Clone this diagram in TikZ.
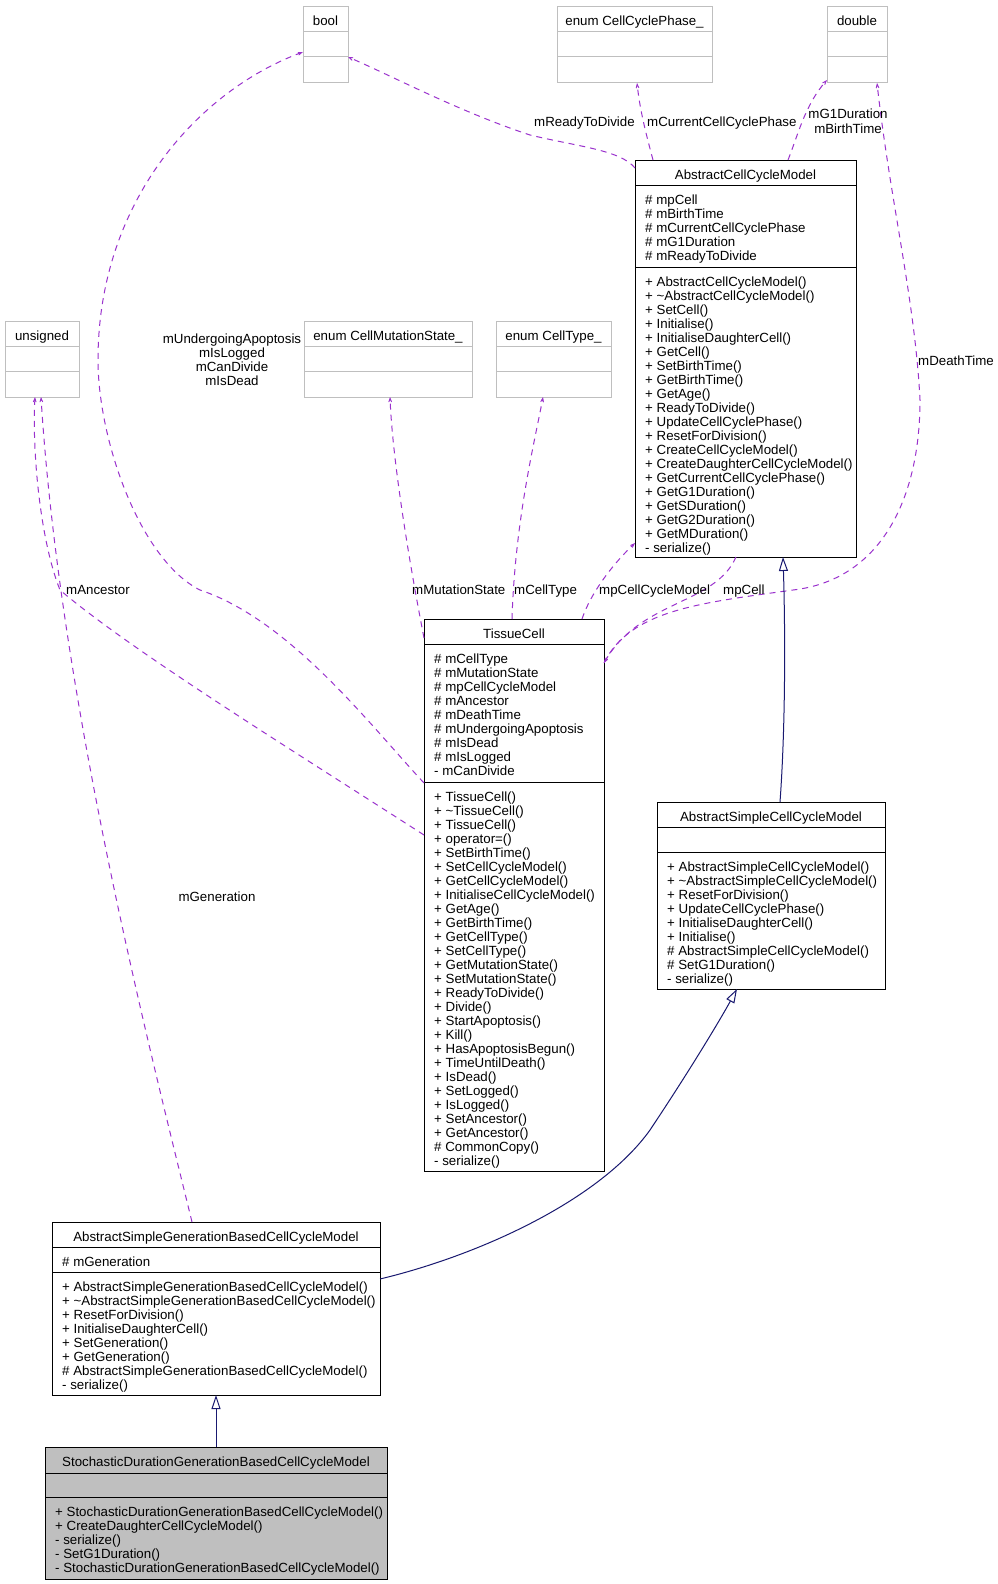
\documentclass[tikz,border=0pt]{standalone}
\usepackage{fontspec}
\setmainfont{Liberation Sans}
\usetikzlibrary{arrows.meta, calc}
\definecolor{usepurple}{HTML}{9A32CD}
\definecolor{isablue}{HTML}{191970}
\definecolor{boxgray}{HTML}{BFBFBF}

\begin{document}
\begin{tikzpicture}[x=1pt, y=-1pt, font=\fontsize{13.3}{14}\selectfont,
  cls/.style={draw=black, line width=1pt, fill=white, anchor=north west, inner sep=0, outer sep=0},
  typ/.style={cls, draw=boxgray},
  classname/.style={anchor=base, inner sep=0},
  member/.style={anchor=base west, align=left, inner sep=0},
  lbl/.style={anchor=base west, inner sep=0},
  uses/.style={draw=usepurple, line width=1pt, dash pattern=on 6pt off 5pt,
    -{Stealth[length=11pt, width=8pt, inset=8pt]}},
  isa/.style={draw=isablue, line width=1pt, -{Triangle[open, length=14pt, width=9pt, fill=white]}}]
  \fill[white] (0,0) rectangle (997,1584);
  \useasboundingbox (0,0) rectangle (997,1584);

  % --- plain types ---
  \node[typ, minimum width=45, minimum height=76] (bool) at (303,7) {};
  \node[classname] (bool-t) at (325.5,26) {bool};
  \node[typ, minimum width=155, minimum height=76] (cyclephase) at (557,7) {};
  \node[classname] (cyclephase-t) at (634.5,26) {enum CellCyclePhase\_};
  \node[typ, minimum width=60, minimum height=76] (double) at (827,7) {};
  \node[classname] (double-t) at (857,26) {double};
  \node[typ, minimum width=74, minimum height=76] (unsigned) at (5,321) {};
  \node[classname] (unsigned-t) at (42,340) {unsigned};
  \node[typ, minimum width=168, minimum height=76] (mutation) at (304,321) {};
  \node[classname] (mutation-t) at (388,340) {enum CellMutationState\_};
  \node[typ, minimum width=115, minimum height=76] (celltype) at (496,321) {};
  \node[classname] (celltype-t) at (553.5,340) {enum CellType\_};
  \foreach \n/\w in {bool/45, cyclephase/155, double/60, unsigned/74, mutation/168, celltype/115}
    \draw[boxgray, line width=1pt] ($(\n.north west)+(0,25)$) -- ++(\w,0)
      ($(\n.north west)+(0,50)$) -- ++(\w,0);

  % --- AbstractCellCycleModel ---
  % (member lists sit on the baseline of their last line)
  \node[cls, minimum width=221, minimum height=397] (accm) at (635,160) {};
  \node[classname] (accm-t) at (745.5,179) {AbstractCellCycleModel};
  \draw[line width=1pt] ($(accm.north west)+(0,25)$) -- ++(221,0)
    ($(accm.north west)+(0,107)$) -- ++(221,0);
  \node[member] (accm-a) at (645,260) {\# mpCell\\\# mBirthTime\\\# mCurrentCellCyclePhase\\\# mG1Duration\\\# mReadyToDivide};
  \node[member] (accm-m) at (645,552) {+ AbstractCellCycleModel()\\+ \textasciitilde AbstractCellCycleModel()\\+ SetCell()\\+ Initialise()\\+ InitialiseDaughterCell()\\+ GetCell()\\+ SetBirthTime()\\+ GetBirthTime()\\+ GetAge()\\+ ReadyToDivide()\\+ UpdateCellCyclePhase()\\+ ResetForDivision()\\+ CreateCellCycleModel()\\+ CreateDaughterCellCycleModel()\\+ GetCurrentCellCyclePhase()\\+ GetG1Duration()\\+ GetSDuration()\\+ GetG2Duration()\\+ GetMDuration()\\- serialize()};

  % --- TissueCell ---
  \node[cls, minimum width=180, minimum height=552] (tissue) at (424,619) {};
  \node[classname] (tissue-t) at (514,638) {TissueCell};
  \draw[line width=1pt] ($(tissue.north west)+(0,25)$) -- ++(180,0)
    ($(tissue.north west)+(0,163)$) -- ++(180,0);
  \node[member] (tissue-a) at (434,775) {\# mCellType\\\# mMutationState\\\# mpCellCycleModel\\\# mAncestor\\\# mDeathTime\\\# mUndergoingApoptosis\\\# mIsDead\\\# mIsLogged\\- mCanDivide};
  \node[member] (tissue-m) at (434,1165) {+ TissueCell()\\+ \textasciitilde TissueCell()\\+ TissueCell()\\+ operator=()\\+ SetBirthTime()\\+ SetCellCycleModel()\\+ GetCellCycleModel()\\+ InitialiseCellCycleModel()\\+ GetAge()\\+ GetBirthTime()\\+ GetCellType()\\+ SetCellType()\\+ GetMutationState()\\+ SetMutationState()\\+ ReadyToDivide()\\+ Divide()\\+ StartApoptosis()\\+ Kill()\\+ HasApoptosisBegun()\\+ TimeUntilDeath()\\+ IsDead()\\+ SetLogged()\\+ IsLogged()\\+ SetAncestor()\\+ GetAncestor()\\\# CommonCopy()\\- serialize()};

  % --- AbstractSimpleCellCycleModel ---
  \node[cls, minimum width=228, minimum height=187] (ascm) at (657,802) {};
  \node[classname] (ascm-t) at (771,821) {AbstractSimpleCellCycleModel};
  \draw[line width=1pt] ($(ascm.north west)+(0,25)$) -- ++(228,0)
    ($(ascm.north west)+(0,50)$) -- ++(228,0);
  \node[member] (ascm-m) at (667,983) {+ AbstractSimpleCellCycleModel()\\+ \textasciitilde AbstractSimpleCellCycleModel()\\+ ResetForDivision()\\+ UpdateCellCyclePhase()\\+ InitialiseDaughterCell()\\+ Initialise()\\\# AbstractSimpleCellCycleModel()\\\# SetG1Duration()\\- serialize()};

  % --- AbstractSimpleGenerationBasedCellCycleModel ---
  \node[cls, minimum width=328, minimum height=173] (asgb) at (52,1222) {};
  \node[classname] (asgb-t) at (216,1241) {AbstractSimpleGenerationBasedCellCycleModel};
  \draw[line width=1pt] ($(asgb.north west)+(0,25)$) -- ++(328,0)
    ($(asgb.north west)+(0,50)$) -- ++(328,0);
  \node[member] (asgb-a) at (62,1266) {\# mGeneration};
  \node[member] (asgb-m) at (62,1389) {+ AbstractSimpleGenerationBasedCellCycleModel()\\+ \textasciitilde AbstractSimpleGenerationBasedCellCycleModel()\\+ ResetForDivision()\\+ InitialiseDaughterCell()\\+ SetGeneration()\\+ GetGeneration()\\\# AbstractSimpleGenerationBasedCellCycleModel()\\- serialize()};

  % --- StochasticDurationGenerationBasedCellCycleModel ---
  \node[cls, fill=boxgray, minimum width=342, minimum height=132] (sdgb) at (45,1447) {};
  \node[classname] (sdgb-t) at (216,1466) {StochasticDurationGenerationBasedCellCycleModel};
  \draw[line width=1pt] ($(sdgb.north west)+(0,26)$) -- ++(342,0)
    ($(sdgb.north west)+(0,50)$) -- ++(342,0);
  \node[member] (sdgb-m) at (55,1572) {+ StochasticDurationGenerationBasedCellCycleModel()\\+ CreateDaughterCellCycleModel()\\- serialize()\\- SetG1Duration()\\- StochasticDurationGenerationBasedCellCycleModel()};

  % --- usage ---
  \draw[uses] ($(tissue.north west)+(0,164)$) .. controls (370,725) and (290,620) .. (200,590)
    .. controls (140,560) and (98,440) .. (98,360) .. controls (98,200) and (200,90) .. ($(bool.north west)+(0,45)$);
  \draw[uses] ($(tissue.north west)+(0,216)$) .. controls (300,755) and (130,650) .. (60,590)
    .. controls (40,540) and (32,450) .. ($(unsigned.south west)+(30,0)$);
  \draw[uses] ($(asgb.north west)+(140,0)$) .. controls (150,1050) and (60,700) .. ($(unsigned.south west)+(36,0)$);
  \draw[uses] ($(tissue.north west)+(0,19)$) .. controls (405,540) and (392,450) .. ($(mutation.south west)+(86,0)$);
  \draw[uses] ($(tissue.north west)+(88,0)$) .. controls (515,520) and (535,440) .. ($(celltype.south west)+(47,0)$);
  \draw[uses] ($(tissue.north west)+(158,0)$) .. controls (590,595) and (610,567) .. ($(accm.south west)+(0,-14)$);
  \draw[uses] ($(accm.south west)+(101,0)$) .. controls (715,605) and (640,600) .. ($(tissue.north east)+(0,44)$);
  \draw[uses] ($(tissue.north east)+(0,44)$) .. controls (630,610) and (700,603) .. (793,590)
    .. controls (880,580) and (920,500) .. (920,400) .. controls (915,300) and (890,200) .. ($(double.south east)+(-10,0)$);
  \draw[uses] ($(accm.north west)+(0,8)$) .. controls (620,150) and (580,147) .. (530,135)
    .. controls (460,112) and (390,75) .. ($(bool.north east)+(0,50)$);
  \draw[uses] ($(accm.north west)+(18,0)$) .. controls (645,130) and (640,110) .. ($(cyclephase.south west)+(80,0)$);
  \draw[uses] ($(accm.north west)+(153,0)$) .. controls (798,135) and (805,105) .. ($(double.south west)+(0,-3)$);

  % --- inheritance ---
  \draw[isa] ($(ascm.north west)+(123,0)$) .. controls (786,720) and (785,620) .. ($(accm.south west)+(148,0)$);
  \draw[isa] ($(asgb.north east)+(0,57)$) .. controls (480,1255) and (600,1200) .. (650,1130)
    .. controls (690,1070) and (720,1020) .. ($(ascm.south west)+(80,0)$);
  \draw[isa] (sdgb.north) -- (asgb.south);

  % --- labels ---
  \node[align=center, anchor=base, inner sep=0] (lbl-bool) at (232,385) {mUndergoingApoptosis\\mIsLogged\\mCanDivide\\mIsDead};
  \node[lbl] (lbl-ancestor) at (66,594) {mAncestor};
  \node[lbl] (lbl-mutation) at (412,594) {mMutationState};
  \node[lbl] (lbl-celltype) at (514,594) {mCellType};
  \node[lbl] (lbl-cyclemodel) at (599,594) {mpCellCycleModel};
  \node[lbl] (lbl-cell) at (723,594) {mpCell};
  \node[anchor=base, inner sep=0] (lbl-generation) at (217,901) {mGeneration};
  \node[lbl] (lbl-ready) at (534,127) {mReadyToDivide};
  \node[lbl] (lbl-phase) at (647,127) {mCurrentCellCyclePhase};
  \node[align=center, anchor=base, inner sep=0] (lbl-g1) at (848,133) {mG1Duration\\mBirthTime};
  \node[lbl] (lbl-death) at (918,365) {mDeathTime};
\end{tikzpicture}
\end{document}
